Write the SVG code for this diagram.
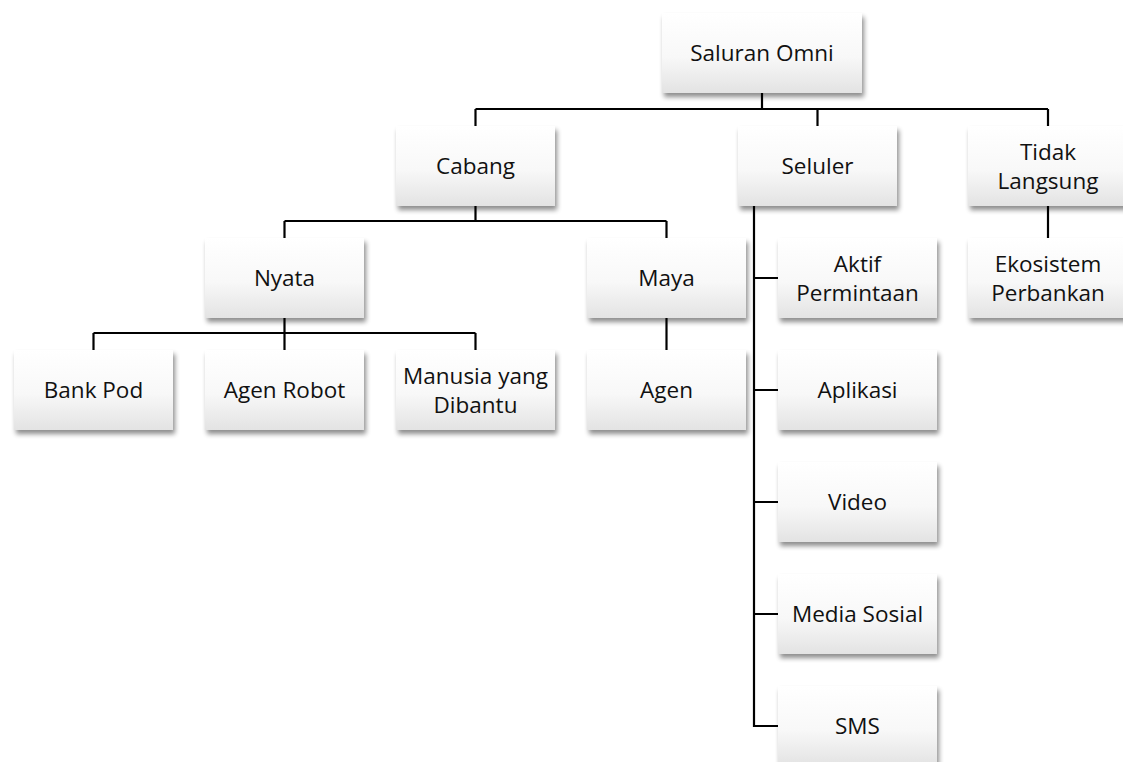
<svg xmlns="http://www.w3.org/2000/svg" width="1123" height="762" viewBox="0 0 1123 762">
  <defs>
    <linearGradient id="boxFill" x1="0" y1="0" x2="0" y2="1">
      <stop offset="0" stop-color="#ffffff"/>
      <stop offset="0.55" stop-color="#f8f8f8"/>
      <stop offset="1" stop-color="#e3e3e3"/>
    </linearGradient>
    <filter id="shadow" x="-10%" y="-10%" width="125%" height="135%">
      <feGaussianBlur in="SourceAlpha" stdDeviation="2.5"/>
      <feOffset dx="2" dy="4" result="b"/>
      <feComponentTransfer><feFuncA type="linear" slope="0.45"/></feComponentTransfer>
      <feMerge><feMergeNode/><feMergeNode in="SourceGraphic"/></feMerge>
    </filter>
  </defs>
  <style>
    .box { fill: url(#boxFill); filter: url(#shadow); }
    .lbl { font-family: "Open Sans", "Noto Sans", sans-serif; font-size: 22.5px; fill: #111; text-anchor: middle; }
    .conn { stroke: #000; stroke-width: 2.2; fill: none; }
  </style>
  <rect width="1123" height="762" fill="#fff"/>

  <g id="connectors">
    <!-- Saluran Omni to level 1 -->
    <path class="conn" d="M762 93V109M475.5 109H1048M475.5 109V126M817.5 109V126M1048 109V126"/>
    <!-- Cabang to Nyata / Maya -->
    <path class="conn" d="M475.5 206V221M284.5 221H666.5M284.5 221V238M666.5 221V238"/>
    <!-- Nyata to leaves -->
    <path class="conn" d="M284.5 318V333M93.5 333H475.5M93.5 333V350M284.5 333V350M475.5 333V350"/>
    <!-- Maya to Agen -->
    <path class="conn" d="M666.5 318V350"/>
    <!-- Seluler spine -->
    <path class="conn" d="M754 206V727M753 278H778M753 390H778M753 502H778M753 614H778M753 726H778"/>
    <!-- Tidak Langsung to Ekosistem -->
    <path class="conn" d="M1048 206V238"/>
  </g>

  <g id="n-omni"><rect class="box" x="662" y="13" width="200" height="80"/><text class="lbl" x="762" y="61">Saluran Omni</text></g>
  <g id="n-cabang"><rect class="box" x="396" y="126" width="159" height="80"/><text class="lbl" x="475.5" y="174">Cabang</text></g>
  <g id="n-seluler"><rect class="box" x="738" y="126" width="159" height="80"/><text class="lbl" x="817.5" y="174">Seluler</text></g>
  <g id="n-tidak"><rect class="box" x="968" y="126" width="159" height="80"/><text class="lbl" x="1048"><tspan x="1048" y="159.5">Tidak</tspan><tspan x="1048" y="188.5">Langsung</tspan></text></g>
  <g id="n-nyata"><rect class="box" x="205" y="238" width="159" height="80"/><text class="lbl" x="284.5" y="286">Nyata</text></g>
  <g id="n-maya"><rect class="box" x="587" y="238" width="159" height="80"/><text class="lbl" x="666.5" y="286">Maya</text></g>
  <g id="n-aktif"><rect class="box" x="778" y="238" width="159" height="80"/><text class="lbl"><tspan x="857.5" y="271.5">Aktif</tspan><tspan x="857.5" y="300.5">Permintaan</tspan></text></g>
  <g id="n-ekosistem"><rect class="box" x="968" y="238" width="159" height="80"/><text class="lbl"><tspan x="1048" y="271.5">Ekosistem</tspan><tspan x="1048" y="300.5">Perbankan</tspan></text></g>
  <g id="n-bankpod"><rect class="box" x="14" y="350" width="159" height="80"/><text class="lbl" x="93.5" y="398">Bank Pod</text></g>
  <g id="n-agenrobot"><rect class="box" x="205" y="350" width="159" height="80"/><text class="lbl" x="284.5" y="398">Agen Robot</text></g>
  <g id="n-manusia"><rect class="box" x="396" y="350" width="159" height="80"/><text class="lbl"><tspan x="475.5" y="383.5">Manusia yang</tspan><tspan x="475.5" y="412.5">Dibantu</tspan></text></g>
  <g id="n-agen"><rect class="box" x="587" y="350" width="159" height="80"/><text class="lbl" x="666.5" y="398">Agen</text></g>
  <g id="n-aplikasi"><rect class="box" x="778" y="350" width="159" height="80"/><text class="lbl" x="857.5" y="398">Aplikasi</text></g>
  <g id="n-video"><rect class="box" x="778" y="462" width="159" height="80"/><text class="lbl" x="857.5" y="510">Video</text></g>
  <g id="n-media"><rect class="box" x="778" y="574" width="159" height="80"/><text class="lbl" x="857.5" y="622">Media Sosial</text></g>
  <g id="n-sms"><rect class="box" x="778" y="686" width="159" height="80"/><text class="lbl" x="857.5" y="734">SMS</text></g>
</svg>
